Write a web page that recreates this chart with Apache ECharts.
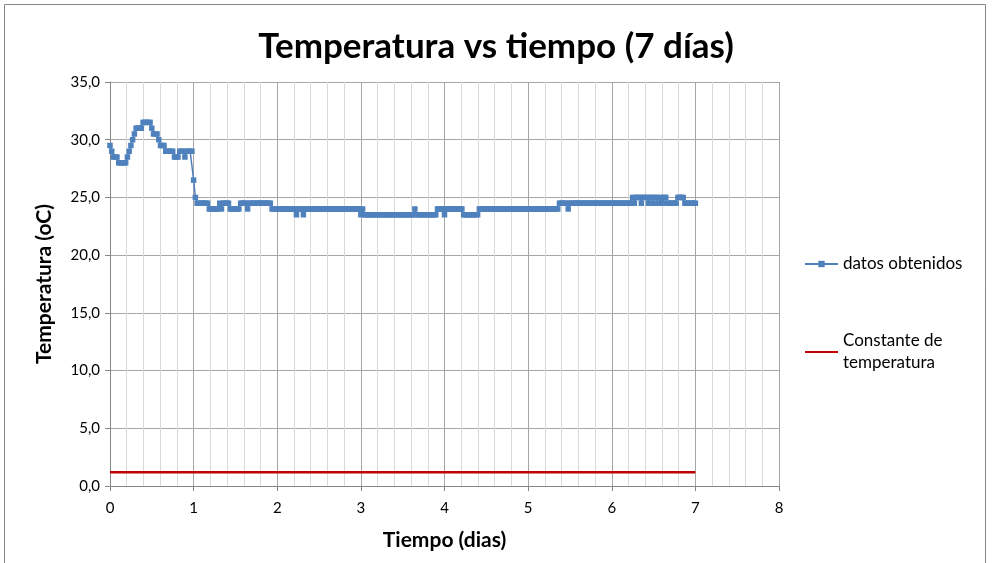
<!DOCTYPE html>
<html>
<head>
<meta charset="utf-8">
<script src="https://cdn.jsdelivr.net/npm/echarts@6/dist/echarts.min.js"></script>
<style>
  html, body { margin: 0; padding: 0; background: #fff; }
  #chart { width: 992px; height: 563px; }
</style>
</head>
<body>
<div id="chart"></div>
<script>
// lecturas cada media hora (48 por dia)
const dia0 = [29.5, 29, 28.5, 28.5, 28.5, 28, 28, 28, 28, 28,
    28.5, 29, 29.5, 30, 30.5, 31, 31, 31, 31, 31.5,
    31.5, 31.5, 31.5, 31.5, 31, 30.5, 30.5, 30.5, 30, 29.5,
    29.5, 29.5, 29, 29, 29, 29, 29, 28.5, 28.5, 28.5,
    29, 29, 29, 28.5, 29, 29, 29, 29];
const dia1 = [26.5, 25, 24.5, 24.5, 24.5, 24.5, 24.5, 24.5, 24.5, 24,
    24, 24, 24, 24, 24, 24.5, 24, 24.5, 24.5, 24.5,
    24.5, 24, 24, 24, 24, 24, 24, 24.5, 24.5, 24.5,
    24.5, 24, 24.5, 24.5, 24.5, 24.5, 24.5, 24.5, 24.5, 24.5,
    24.5, 24.5, 24.5, 24.5, 24.5, 24, 24, 24];
const dia2 = [24, 24, 24, 24, 24, 24, 24, 24, 24, 24,
    24, 23.5, 24, 24, 24, 23.5, 24, 24, 24, 24,
    24, 24, 24, 24, 24, 24, 24, 24, 24, 24,
    24, 24, 24, 24, 24, 24, 24, 24, 24, 24,
    24, 24, 24, 24, 24, 24, 24, 24];
const dia3 = [23.5, 24, 23.5, 23.5, 23.5, 23.5, 23.5, 23.5, 23.5, 23.5,
    23.5, 23.5, 23.5, 23.5, 23.5, 23.5, 23.5, 23.5, 23.5, 23.5,
    23.5, 23.5, 23.5, 23.5, 23.5, 23.5, 23.5, 23.5, 23.5, 23.5,
    23.5, 24, 23.5, 23.5, 23.5, 23.5, 23.5, 23.5, 23.5, 23.5,
    23.5, 23.5, 23.5, 23.5, 24, 24, 24, 24];
const dia4 = [23.5, 24, 24, 24, 24, 24, 24, 24, 24, 24,
    24, 23.5, 23.5, 23.5, 23.5, 23.5, 23.5, 23.5, 23.5, 23.5,
    24, 24, 24, 24, 24, 24, 24, 24, 24, 24,
    24, 24, 24, 24, 24, 24, 24, 24, 24, 24,
    24, 24, 24, 24, 24, 24, 24, 24];
const dia5 = [24, 24, 24, 24, 24, 24, 24, 24, 24, 24,
    24, 24, 24, 24, 24, 24, 24, 24, 24.5, 24.5,
    24.5, 24.5, 24.5, 24, 24.5, 24.5, 24.5, 24.5, 24.5, 24.5,
    24.5, 24.5, 24.5, 24.5, 24.5, 24.5, 24.5, 24.5, 24.5, 24.5,
    24.5, 24.5, 24.5, 24.5, 24.5, 24.5, 24.5, 24.5];
const dia6 = [24.5, 24.5, 24.5, 24.5, 24.5, 24.5, 24.5, 24.5, 24.5, 24.5,
    24.5, 24.5, 25, 24.5, 25, 25, 25, 24.5, 25, 25,
    25, 24.5, 25, 25, 24.5, 25, 25, 24.5, 25, 24.5,
    25, 25, 24.5, 24.5, 24.5, 24.5, 24.5, 24.5, 25, 25,
    25, 25, 24.5, 24.5, 24.5, 24.5, 24.5, 24.5,
    24.5];

const constanteT = 1.2;
const constanteX = [0, 7];

const xTicks = ['0', '1', '2', '3', '4', '5', '6', '7', '8'];

const temps = [].concat(dia0, dia1, dia2, dia3, dia4, dia5, dia6);
const datos = temps.map(function(v, i) { return [i / 48, v]; });
const constante = constanteX.map(function(x) { return [x, constanteT]; });

const FONT = 'Lato, "Liberation Sans", sans-serif';

const chart = echarts.init(document.getElementById('chart'));

const option = {
    animation: false,
    backgroundColor: '#fff',
    title: {
        text: 'Temperatura vs tiempo (7 días)',
        left: 'center',
        top: 24,
        textStyle: {
            fontFamily: FONT,
            fontSize: 35,
            fontWeight: 'bold',
            color: '#000'
        }
    },
    legend: {
        orient: 'vertical',
        left: 799,
        top: 248,
        itemGap: 55,
        itemWidth: 33,
        itemHeight: 8,
        textStyle: {
            fontFamily: FONT,
            fontSize: 17,
            color: '#000',
            lineHeight: 22
        },
        data: [
            { name: 'datos obtenidos' },
            { name: 'Constante de\ntemperatura', itemStyle: { opacity: 0 } }
        ]
    },
    grid: {
        left: 110,
        right: 213,
        top: 82,
        bottom: 77
    },
    xAxis: {
        type: 'value',
        min: 0,
        max: 8,
        interval: 1,
        name: 'Tiempo (dias)',
        nameLocation: 'middle',
        nameGap: 44,
        nameTextStyle: {
            fontFamily: FONT,
            fontSize: 21,
            fontWeight: 'bold',
            color: '#000'
        },
        axisLine: { show: true, lineStyle: { color: '#868686', width: 1 } },
        axisTick: { show: true, length: 5, lineStyle: { color: '#868686' } },
        axisLabel: {
            fontFamily: FONT,
            fontSize: 15,
            color: '#000',
            margin: 15,
            formatter: function(v) { return xTicks[v]; }
        },
        splitLine: { show: true, lineStyle: { color: '#a6a6a6', width: 1 } },
        minorTick: { show: false, splitNumber: 5 },
        minorSplitLine: { show: true, lineStyle: { color: '#d9d9d9', width: 1 } }
    },
    yAxis: {
        type: 'value',
        min: 0,
        max: 35,
        interval: 5,
        name: 'Temperatura (oC)',
        nameLocation: 'middle',
        nameGap: 55,
        nameTextStyle: {
            fontFamily: FONT,
            fontSize: 21,
            fontWeight: 'bold',
            color: '#000'
        },
        axisLine: { show: true, lineStyle: { color: '#868686', width: 1 } },
        axisTick: { show: true, length: 5, lineStyle: { color: '#868686' } },
        axisLabel: {
            fontFamily: FONT,
            fontSize: 15,
            color: '#000',
            margin: 10,
            formatter: function(v) { return v.toFixed(1).replace('.', ','); }
        },
        splitLine: { show: true, lineStyle: { color: '#a6a6a6', width: 1 } }
    },
    series: [
        {
            name: 'datos obtenidos',
            type: 'line',
            data: datos,
            showAllSymbol: true,
            symbol: 'rect',
            symbolSize: 5.5,
            itemStyle: { color: '#4f81bd' },
            lineStyle: { color: '#4f81bd', width: 1.5 }
        },
        {
            name: 'Constante de\ntemperatura',
            type: 'line',
            data: constante,
            symbol: 'none',
            itemStyle: { color: '#c00000' },
            lineStyle: { color: '#c00000', width: 2.5 }
        }
    ],
    graphic: [
        {
            type: 'rect',
            shape: { x: 4.5, y: 4.5, width: 981, height: 600 },
            style: { fill: 'none', stroke: '#868686', lineWidth: 1 },
            silent: true
        }
    ]
};

chart.setOption(option);

window.addEventListener('resize', function() {
    chart.resize();
});
</script>
</body>
</html>
